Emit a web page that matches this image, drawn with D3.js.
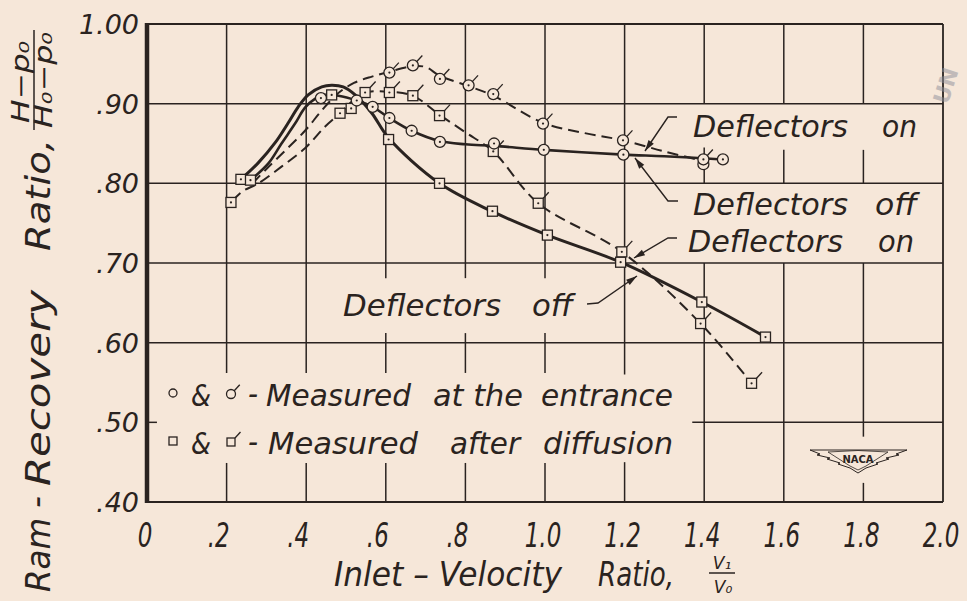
<!DOCTYPE html>
<html>
<head>
<meta charset="utf-8">
<script src="https://cdn.jsdelivr.net/npm/d3@7"></script>
<style>
  html, body { margin: 0; padding: 0; background: #f6e7d9; }
  svg { display: block; }
</style>
</head>
<body>
<svg id="chart" width="967" height="601"></svg>
<script>
// ---- axis ticks ----
const xTicks = [0, 0.2, 0.4, 0.6, 0.8, 1.0, 1.2, 1.4, 1.6, 1.8, 2.0];
const xTickLabels = ["0", ".2", ".4", ".6", ".8", "1.0", "1.2", "1.4", "1.6", "1.8", "2.0"];
const yTicks = [0.4, 0.5, 0.6, 0.7, 0.8, 0.9, 1.0];
const yTickLabels = [".40", ".50", ".60", ".70", ".80", ".90", "1.00"];

// ---- measured points [inlet-velocity ratio, ram-recovery ratio] ----
// circles: measured at the entrance, deflectors off
const entranceOff = [[0.437, 0.907], [0.527, 0.904], [0.567, 0.896], [0.609, 0.882], [0.665, 0.866],
  [0.736, 0.852], [0.872, 0.850], [0.997, 0.842], [1.197, 0.836], [1.398, 0.824], [1.447, 0.830]];
// flagged circles: measured at the entrance, deflectors on
const entranceOn = [[0.609, 0.939], [0.668, 0.948], [0.736, 0.931], [0.808, 0.923], [0.870, 0.912],
  [0.995, 0.875], [1.196, 0.854], [1.398, 0.830]];
// squares: measured after diffusion, deflectors off
const diffusionOff = [[0.211, 0.776], [0.236, 0.805], [0.260, 0.804], [0.464, 0.911], [0.485, 0.888],
  [0.513, 0.894], [0.607, 0.855], [0.735, 0.800], [0.868, 0.765], [1.006, 0.735], [1.190, 0.701],
  [1.394, 0.651], [1.554, 0.607]];
// flagged squares: measured after diffusion, deflectors on
const diffusionOn = [[0.548, 0.914], [0.609, 0.914], [0.668, 0.910], [0.735, 0.885], [0.870, 0.840],
  [0.983, 0.775], [1.193, 0.714], [1.391, 0.624], [1.519, 0.549]];

// ---- faired curves through the test points ----
const diffusionOffCurve = [[0.238, 0.806], [0.280, 0.826], [0.322, 0.851], [0.355, 0.876], [0.380, 0.896],
  [0.405, 0.911], [0.439, 0.921], [0.464, 0.923], [0.493, 0.921], [0.523, 0.911], [0.565, 0.888],
  [0.607, 0.857], [0.735, 0.800], [0.866, 0.765], [1.006, 0.735], [1.190, 0.701], [1.394, 0.651],
  [1.554, 0.607]];
const entranceOffCurve = [[0.260, 0.804], [0.305, 0.825], [0.338, 0.850], [0.372, 0.875], [0.397, 0.895],
  [0.422, 0.906], [0.447, 0.911], [0.481, 0.910], [0.527, 0.904], [0.567, 0.896], [0.609, 0.882],
  [0.665, 0.866], [0.736, 0.853], [0.800, 0.849], [0.872, 0.847], [0.997, 0.842], [1.197, 0.836],
  [1.300, 0.834], [1.447, 0.830]];
const entranceOnCurve = [[0.265, 0.800], [0.300, 0.818], [0.351, 0.843], [0.397, 0.866], [0.440, 0.892],
  [0.480, 0.913], [0.520, 0.926], [0.565, 0.934], [0.609, 0.940], [0.668, 0.947], [0.700, 0.946],
  [0.736, 0.935], [0.808, 0.922], [0.870, 0.910], [0.995, 0.876], [1.100, 0.863], [1.196, 0.854],
  [1.300, 0.840], [1.390, 0.829]];
const diffusionOnCurve = [[0.215, 0.778], [0.240, 0.790], [0.280, 0.800], [0.338, 0.821], [0.397, 0.844],
  [0.447, 0.871], [0.485, 0.888], [0.520, 0.905], [0.548, 0.914], [0.609, 0.915], [0.668, 0.910],
  [0.735, 0.886], [0.800, 0.864], [0.870, 0.840], [0.983, 0.775], [1.193, 0.714], [1.391, 0.624],
  [1.519, 0.549]];

// ---- drawing ----
const ink = "#2a2320";
const paper = "#f6e7d9";
const svg = d3.select("#chart");

const x = d3.scaleLinear().domain([0, 2]).range([147, 943]);
const y = d3.scaleLinear().domain([0.4, 1.0]).range([502, 24]);

svg.append("rect").attr("width", 967).attr("height", 601).attr("fill", paper);

// grid lines are hand-broken around the lettering: spans in data units
const vSpans = new Map([
  [0.2, [[0.4, 0.449], [0.562, 1]]],
  [0.4, [[0.4, 0.449], [0.562, 1]]],
  [0.6, [[0.4, 0.449], [0.562, 0.612], [0.681, 1]]],
  [0.8, [[0.4, 0.449], [0.562, 0.612], [0.681, 1]]],
  [1.0, [[0.4, 0.449], [0.562, 0.612], [0.681, 1]]],
  [1.2, [[0.4, 0.45], [0.56, 1]]],
  [1.4, [[0.4, 0.70], [0.80, 0.845], [0.90, 1]]],
  [1.6, [[0.4, 0.70], [0.80, 0.842], [0.90, 1]]],
  [1.8, [[0.4, 0.424], [0.482, 0.70], [0.80, 0.842], [0.90, 1]]]
]);
const hSpans = new Map([
  [0.5, [[0, 0.025], [1.37, 2]]],
  [0.6, [[0, 2]]], [0.7, [[0, 2]]], [0.8, [[0, 2]]], [0.9, [[0, 2]]]
]);

const grid = svg.append("g").attr("stroke", ink).attr("stroke-width", 1.5).attr("fill", "none");
vSpans.forEach((spans, xv) => {
  spans.forEach(s => grid.append("line")
    .attr("x1", x(xv)).attr("x2", x(xv)).attr("y1", y(s[0])).attr("y2", y(s[1])));
});
hSpans.forEach((spans, yv) => {
  spans.forEach(s => grid.append("line")
    .attr("x1", x(s[0])).attr("x2", x(s[1])).attr("y1", y(yv)).attr("y2", y(yv)));
});

// frame
const frame = svg.append("g").attr("stroke", ink).attr("fill", "none");
frame.append("line").attr("x1", x(0)).attr("x2", x(2)).attr("y1", y(1)).attr("y2", y(1)).attr("stroke-width", 2);
frame.append("line").attr("x1", x(0)).attr("x2", x(2)).attr("y1", y(0.4)).attr("y2", y(0.4)).attr("stroke-width", 2.2);
frame.append("line").attr("x1", x(2)).attr("x2", x(2)).attr("y1", y(1)).attr("y2", y(0.4)).attr("stroke-width", 1.8);
frame.append("line").attr("x1", x(0)).attr("x2", x(0)).attr("y1", y(1) - 1).attr("y2", y(0.4) + 1).attr("stroke-width", 4.5);

// tick labels
const font = "'DejaVu Sans', 'Liberation Sans', sans-serif";
svg.append("g").selectAll("text").data(yTicks).join("text")
  .attr("x", 139).attr("y", d => y(d) + 10)
  .attr("text-anchor", "end")
  .attr("font-family", font).attr("font-style", "oblique")
  .attr("font-size", 27).attr("fill", ink)
  .text((d, i) => yTickLabels[i]);

svg.append("g").selectAll("text").data(xTicks).join("text")
  .attr("transform", (d, i) => `translate(${x(d) + (xTickLabels[i][0] === "." ? -8 : -2)},547) scale(0.75,1)`)
  .attr("text-anchor", "middle")
  .attr("font-family", "'DejaVu Sans Condensed', 'DejaVu Sans', sans-serif").attr("font-style", "oblique")
  .attr("font-size", 34).attr("fill", ink)
  .text((d, i) => xTickLabels[i]);

// curves
const line = d3.line().x(d => x(d[0])).y(d => y(d[1])).curve(d3.curveCatmullRom.alpha(0.5));
const curves = svg.append("g").attr("fill", "none").attr("stroke", ink).attr("stroke-linecap", "round");
curves.append("path").attr("d", line(diffusionOffCurve)).attr("stroke-width", 3);
curves.append("path").attr("d", line(entranceOffCurve)).attr("stroke-width", 2.6);
curves.append("path").attr("d", line(entranceOnCurve)).attr("stroke-width", 2)
  .attr("stroke-dasharray", "11,6").attr("stroke-linecap", "butt");
curves.append("path").attr("d", line(diffusionOnCurve)).attr("stroke-width", 2)
  .attr("stroke-dasharray", "11,6").attr("stroke-linecap", "butt");

// symbols
function drawCircle(g, cx, cy, r, flagged) {
  g.append("circle").attr("cx", cx).attr("cy", cy).attr("r", r)
    .attr("fill", paper).attr("stroke", ink).attr("stroke-width", 1.3);
  if (r > 4.5) g.append("circle").attr("cx", cx).attr("cy", cy).attr("r", 1.1).attr("fill", ink);
  if (flagged) g.append("line").attr("x1", cx + r * 0.72).attr("y1", cy - r * 0.72)
    .attr("x2", cx + r * 0.72 + 5.5).attr("y2", cy - r * 0.72 - 6).attr("stroke", ink).attr("stroke-width", 1.3);
}
function drawSquare(g, cx, cy, s, flagged) {
  g.append("rect").attr("x", cx - s / 2).attr("y", cy - s / 2).attr("width", s).attr("height", s)
    .attr("fill", paper).attr("stroke", ink).attr("stroke-width", 1.3);
  if (s > 8) g.append("circle").attr("cx", cx).attr("cy", cy).attr("r", 1.1).attr("fill", ink);
  if (flagged) g.append("line").attr("x1", cx + s / 2).attr("y1", cy - s / 2)
    .attr("x2", cx + s / 2 + 5.5).attr("y2", cy - s / 2 - 6).attr("stroke", ink).attr("stroke-width", 1.3);
}
const marks = svg.append("g");
diffusionOff.forEach(d => drawSquare(marks, x(d[0]), y(d[1]), 10, false));
diffusionOn.forEach(d => drawSquare(marks, x(d[0]), y(d[1]), 10, true));
entranceOff.forEach(d => drawCircle(marks, x(d[0]), y(d[1]), 5.5, false));
entranceOn.forEach(d => drawCircle(marks, x(d[0]), y(d[1]), 5.5, true));

// lettering: each word is stretched to the width of the hand lettering
function letter(parent, txt, tx, ty, size, len) {
  const t = parent.append("text").attr("x", tx).attr("y", ty)
    .attr("font-family", font).attr("font-style", "oblique")
    .attr("font-size", size).attr("fill", ink).text(txt);
  if (len) t.attr("textLength", len).attr("lengthAdjust", "spacingAndGlyphs");
  return t;
}
const notes = svg.append("g");
letter(notes, "Deflectors", 693, 137, 30, 155); letter(notes, "on", 882, 137, 30, 35);
letter(notes, "Deflectors", 693, 215, 30, 155); letter(notes, "off", 875, 215, 30, 42);
letter(notes, "Deflectors", 688, 252, 30, 155); letter(notes, "on", 878, 252, 30, 36);
letter(notes, "Deflectors", 343, 316, 30, 158); letter(notes, "off", 532, 316, 30, 41);

// leader arrows
const leaders = [
  [[677, 117], [668, 117], [645, 151]],
  [[678, 201], [668, 201], [635, 158]],
  [[677, 238], [668, 238], [634, 258]],
  [[587, 304], [598, 303], [637, 276]]
];
const leadG = svg.append("g");
leaders.forEach(pts => {
  leadG.append("path").attr("d", d3.line()(pts)).attr("fill", "none").attr("stroke", ink).attr("stroke-width", 1.4);
  const a = pts[pts.length - 2], b = pts[pts.length - 1];
  const ang = Math.atan2(b[1] - a[1], b[0] - a[0]);
  const L = 11, Wd = 3.2;
  const bx = b[0] - L * Math.cos(ang), by = b[1] - L * Math.sin(ang);
  const px = -Math.sin(ang) * Wd, py = Math.cos(ang) * Wd;
  leadG.append("path").attr("d", `M${b[0]},${b[1]}L${bx + px},${by + py}L${bx - px},${by - py}Z`).attr("fill", ink);
});

// key
const key = svg.append("g");
drawCircle(key, 173, 393, 4, false);
drawCircle(key, 231, 394, 4.5, true);
drawSquare(key, 173, 441, 8, false);
drawSquare(key, 231, 442, 8, true);
letter(key, "&", 191, 406, 30, 20); letter(key, "-", 248, 404, 30, 10);
letter(key, "Measured", 266, 406, 30, 145);
letter(key, "at the", 433, 406, 30, 90); letter(key, "entrance", 541, 406, 30, 132);
letter(key, "&", 191, 454, 30, 20); letter(key, "-", 248, 452, 30, 10);
letter(key, "Measured", 268, 454, 30, 150);
letter(key, "after", 450, 454, 30, 70); letter(key, "diffusion", 543, 454, 30, 130);

// axis titles
const xt = svg.append("g").attr("fill", ink);
letter(xt, "Inlet \u2013 Velocity", 334, 586, 33, 228);
letter(xt, "Ratio,", 598, 586, 33, 76);
letter(xt, "V\u2081", 722, 569, 17).attr("text-anchor", "middle");
xt.append("line").attr("x1", 709).attr("x2", 735).attr("y1", 573).attr("y2", 573).attr("stroke", ink).attr("stroke-width", 1.5);
letter(xt, "V\u2080", 723, 593, 17).attr("text-anchor", "middle");

const yt = svg.append("g").attr("transform", "translate(50,592) rotate(-90)");
letter(yt, "Ram", 0, 0, 34, 74);
letter(yt, "-", 84, -2, 34, 12);
letter(yt, "Recovery", 106, 0, 34, 196);
letter(yt, "Ratio,", 341, 0, 34, 112);
letter(yt, "H\u2212p\u2080", 469, -21, 24, 82);
yt.append("line").attr("x1", 462).attr("x2", 562).attr("y1", -16).attr("y2", -16).attr("stroke", ink).attr("stroke-width", 1.5);
letter(yt, "H\u2080\u2212p\u2080", 464, 2, 24, 96);

// NACA emblem
const logo = svg.append("g").attr("fill", "none").attr("stroke", ink).attr("stroke-width", 1);
logo.append("path").attr("d",
  "M810,450 L907,450 L896,454 L899,455 L886,458 L889,459 L876,463 L878,464 L866,468 L858,473 L850,468 L838,464 L840,463 L827,459 L830,458 L817,455 L820,454 Z");
logo.append("path").attr("d", "M828,452 Q858,449 888,452 L866,466 L858,470 L850,466 Z").attr("stroke-width", 0.8);
logo.append("text").attr("x", 858).attr("y", 463).attr("text-anchor", "middle")
  .attr("font-family", font).attr("font-weight", "bold").attr("font-size", 10)
  .attr("fill", ink).attr("stroke", "none").text("NACA");

// library stamp at the margin
svg.append("text").attr("transform", "translate(953,88) rotate(-72)")
  .attr("text-anchor", "middle").attr("font-family", font).attr("font-weight", "bold")
  .attr("font-size", 22).attr("fill", "#8d8f9a").attr("opacity", 0.5).text("UN");
</script>
</body>
</html>
